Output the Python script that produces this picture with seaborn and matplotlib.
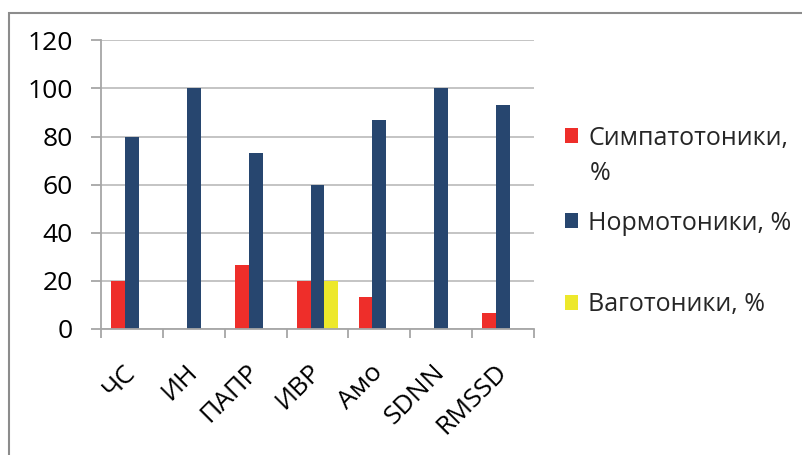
import numpy as np
import pandas as pd
import matplotlib
matplotlib.use("Agg")
import matplotlib.pyplot as plt
import matplotlib.transforms as mtransforms
from matplotlib.patches import Rectangle
import seaborn as sns

categories = ["ЧС", "ИН", "ПАПР", "ИВР", "Амо", "SDNN", "RMSSD"]
symp = [20, 0, 26.7, 20, 13.3, 0, 6.7]
normo = [80, 100, 73.3, 60, 86.7, 100, 93.3]
vago = [0, 0, 0, 20, 0, 0, 0]
series = ["Симпатотоники, %", "Нормотоники, %", "Ваготоники, %"]
colors = ["#EE2E2A", "#27466F", "#EDE82B"]
yticks = [0, 20, 40, 60, 80, 100, 120]

df = pd.DataFrame({"cat": categories, series[0]: symp,
                   series[1]: normo, series[2]: vago})
long = df.melt(id_vars="cat", var_name="grp", value_name="val")

sns.set_theme(style="white")
plt.rcParams["font.family"] = ["Open Sans", "DejaVu Sans"]

DPI = 100
fig = plt.figure(figsize=(8.03, 4.55), dpi=DPI)
ax = fig.add_axes([101 / 803, 1 - 329 / 455, (534 - 101) / 803, (329 - 40.3) / 455])

sns.barplot(data=long, x="cat", y="val", hue="grp", hue_order=series,
            palette=dict(zip(series, colors)), width=0.667, gap=0,
            saturation=1, linewidth=0, ax=ax)

grey = "#A6A6A6"
ax.set_xlim(-0.5, 6.5)
ax.set_ylim(0, 120)
ax.set_yticks(yticks)
ax.set_xlabel("")
ax.set_ylabel("")
ax.set_axisbelow(True)
ax.yaxis.grid(True, color="#BFBFBF", lw=1.3)
for s in ["top", "right"]:
    ax.spines[s].set_visible(False)
for s in ["left", "bottom"]:
    ax.spines[s].set_color(grey)
    ax.spines[s].set_linewidth(1.3)

ax.tick_params(axis="y", length=7.2, width=1.3, color=grey, pad=13,
               labelsize=19, labelcolor="black", left=True)
ax.set_xticks(np.arange(-0.5, 7), minor=True)
ax.tick_params(axis="x", which="minor", length=6.5, width=1.3, color=grey,
               bottom=True)
ax.tick_params(axis="x", which="major", length=0, pad=22, labelsize=19,
               labelcolor="black")
offset = mtransforms.ScaledTranslation(-9 / DPI, 0, fig.dpi_scale_trans)
for lab in ax.get_xticklabels():
    lab.set_rotation(45)
    lab.set_ha("right")
    lab.set_va("top")
    lab.set_rotation_mode("anchor")
    lab.set_transform(lab.get_transform() + offset)

handles, _ = ax.get_legend_handles_labels()
ax.get_legend().remove()
leg_labels = ["Симпатотоники,", "Нормотоники, %", "Ваготоники, %"]
leg_y = [138, 223, 305]
for h, l, y in zip(handles, leg_labels, leg_y):
    fig.legend(handles=[h], labels=[l], loc="center left",
               bbox_to_anchor=(565 / 803, 1 - y / 455), frameon=False,
               fontsize=18, handlelength=0.52, handleheight=0.52,
               handletextpad=0.4, borderpad=0, borderaxespad=0)
fig.text(590 / 803, 1 - 174 / 455, "%", fontsize=18, va="center", ha="left")

fig.patches.append(Rectangle((9 / 803, -0.5), 2, 1 - 13 / 455 + 0.5,
                             transform=fig.transFigure, fill=False,
                             edgecolor="#8C8C8C", lw=1.5))

fig.savefig("out.png", dpi=DPI)
